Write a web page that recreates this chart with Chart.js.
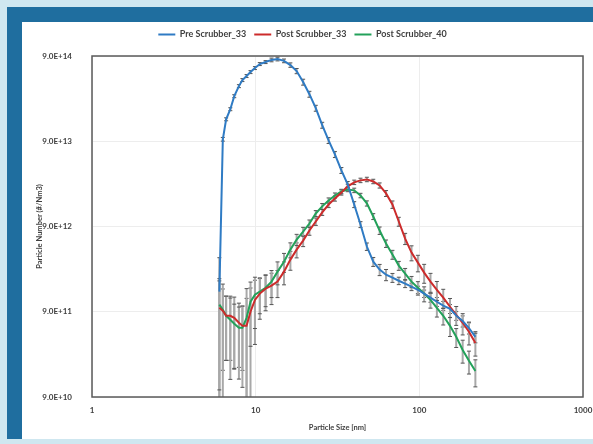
<!DOCTYPE html>
<html>
<head>
<meta charset="utf-8">
<script src="https://cdn.jsdelivr.net/npm/chart.js@4.4.1/dist/chart.umd.min.js"></script>
<style>
  html, body { margin: 0; padding: 0; width: 593px; height: 444px; overflow: hidden; background: #cfe7f0; }
  #frame { position: absolute; left: 7px; top: 7px; width: 586px; height: 432px; background: #1f6e9f; }
  #panel { position: absolute; left: 22px; top: 22px; width: 571px; height: 417px; background: #fff; overflow: hidden; }
  #chart { position: absolute; left: 0; top: 0; }
</style>
</head>
<body>
<div id="frame"></div>
<div id="panel"><canvas id="chart" width="580" height="414"></canvas></div>
<script>
'use strict';

// particle size bins (nm)
const sizes = [6.0, 6.3, 6.6, 7.0, 7.4, 7.9, 8.3, 8.8, 9.3, 9.9, 10.6, 11.5, 12.5, 13.6, 14.9, 16.3, 17.8, 19.5, 21.3, 23.3,
  25.5, 27.9, 30.5, 33.4, 36.5, 40.0, 43.7, 47.8, 52.3, 57.2, 62.6, 68.5, 74.9, 81.9, 89.6, 98.0, 107, 117, 128, 140,
  154, 168, 184, 201, 220];

const preScrubber33 = [1.55e12, 9.5e13, 1.63e14, 2.14e14, 3.04e14, 3.99e14, 4.70e14, 5.24e14, 5.83e14, 6.5e14,
  7.24e14, 7.64e14, 8.1e14, 8.3e14, 7.9e14, 7.05e14, 6.0e14, 4.45e14, 3.21e14, 2.2e14,
  1.39e14, 9.2e13, 6.3e13, 4.1e13, 2.81e13, 1.63e13, 9.5e12, 5.24e12, 3.48e12, 2.81e12,
  2.45e12, 2.26e12, 2.08e12, 1.92e12, 1.77e12, 1.63e12, 1.47e12, 1.32e12, 1.18e12, 1.06e12,
  9.75e11, 8.1e11, 7.0e11, 5.8e11, 4.57e11];

const postScrubber33 = [1.0e12, 9.25e11, 8.07e11, 8.07e11, 7.64e11, 6.68e11, 6.15e11, 6.15e11, 9.0e11, 1.24e12,
  1.47e12, 1.68e12, 1.82e12, 2.03e12, 2.66e12, 3.68e12, 4.82e12, 6.15e12, 8.07e12, 1.03e13,
  1.32e13, 1.63e13, 1.92e13, 2.26e13, 2.66e13, 2.97e13, 3.13e13, 3.21e13, 3.04e13, 2.73e13,
  2.2e13, 1.63e13, 1.03e13, 6.5e12, 4.45e12, 3.39e12, 2.59e12, 2.03e12, 1.63e12, 1.32e12,
  1.03e12, 8.3e11, 6.68e11, 5.24e11, 3.88e11];

const postScrubber40 = [1.09e12, 9.5e11, 8.07e11, 7.24e11, 6.5e11, 5.84e11, 5.84e11, 7.64e11, 1.18e12, 1.43e12,
  1.55e12, 1.72e12, 2.03e12, 2.66e12, 3.48e12, 4.82e12, 6.33e12, 7.85e12, 9.75e12, 1.28e13,
  1.55e13, 1.82e13, 2.08e13, 2.32e13, 2.45e13, 2.39e13, 2.08e13, 1.68e13, 1.18e13, 8.07e12,
  5.68e12, 4.22e12, 3.13e12, 2.52e12, 2.03e12, 1.72e12, 1.47e12, 1.24e12, 1.0e12, 8.07e11,
  6.15e11, 4.57e11, 3.21e11, 2.39e11, 1.82e11];

// relative standard deviation (sd / value) for the error bars
const errPre33 = [1.5, 0.05, 0.04, 0.04, 0.04, 0.04, 0.04, 0.04, 0.04, 0.04, 0.04, 0.04, 0.05, 0.05, 0.05, 0.06, 0.07,
  0.08, 0.08, 0.08, 0.08, 0.08, 0.08, 0.08, 0.08, 0.08, 0.08, 0.1, 0.12, 0.15, 0.15, 0.12, 0.1, 0.1, 0.1, 0.1, 0.1,
  0.12, 0.12, 0.12, 0.12, 0.12, 0.15, 0.15, 0.15];
const errPost33 = [1.2, 0.8, 0.7, 0.7, 0.75, 0.7, 0.7, 1.1, 0.9, 0.7, 0.5, 0.45, 0.4, 0.35, 0.3, 0.25, 0.2, 0.15,
  0.12, 0.1, 0.08, 0.08, 0.07, 0.07, 0.06, 0.06, 0.06, 0.06, 0.06, 0.07, 0.08, 0.1, 0.12, 0.15, 0.2, 0.22, 0.25,
  0.25, 0.25, 0.25, 0.25, 0.25, 0.28, 0.3, 0.3];
const errPost40 = [0.9, 1.0, 0.7, 0.8, 0.7, 0.75, 0.8, 1.2, 0.7, 0.6, 0.45, 0.4, 0.35, 0.3, 0.25, 0.2, 0.15, 0.12,
  0.1, 0.08, 0.08, 0.07, 0.07, 0.06, 0.06, 0.06, 0.06, 0.07, 0.08, 0.1, 0.1, 0.12, 0.12, 0.15, 0.15, 0.18, 0.2,
  0.2, 0.22, 0.22, 0.25, 0.25, 0.3, 0.3, 0.35];

const seriesNames = ['Pre Scrubber_33', 'Post Scrubber_33', 'Post Scrubber_40'];
const xTicks = [1, 10, 100, 1000];
const yTicks = [9e10, 9e11, 9e12, 9e13, 9e14];

const TXT = '#404040';
const FONT = 'Lato, "Open Sans", sans-serif';

const pts = (vals) => sizes.map((s, i) => ({ x: s, y: vals[i] }));

// gray sd bars with dark caps, drawn under the lines
const errorBars = {
  id: 'errorBars',
  beforeDatasetsDraw(chart) {
    const { ctx, chartArea, scales: { x, y } } = chart;
    ctx.save();
    chart.data.datasets.forEach(ds => {
      ds.data.forEach((p, j) => {
        const r = ds.errors[j];
        const px = x.getPixelForValue(p.x);
        const hi = p.y * (1 + r);
        const lo = p.y * (1 - r);
        const yTop = Math.max(y.getPixelForValue(hi), chartArea.top);
        const yBot = lo > y.min ? y.getPixelForValue(lo) : chartArea.bottom;
        ctx.strokeStyle = '#a8a8a8';
        ctx.lineWidth = 2;
        ctx.beginPath();
        ctx.moveTo(px, yTop);
        ctx.lineTo(px, yBot);
        ctx.stroke();
        ctx.strokeStyle = '#555';
        ctx.lineWidth = 1;
        ctx.beginPath();
        ctx.moveTo(px - 2, yTop); ctx.lineTo(px + 2, yTop);
        if (yBot < chartArea.bottom) { ctx.moveTo(px - 2, yBot); ctx.lineTo(px + 2, yBot); }
        ctx.stroke();
      });
    });
    ctx.restore();
  }
};

const plotBox = {
  id: 'plotBox',
  afterDraw(chart) {
    const { ctx, chartArea: a } = chart;
    ctx.save();
    ctx.strokeStyle = '#5a5a5a';
    ctx.lineWidth = 1.5;
    ctx.strokeRect(a.left, a.top, a.right - a.left, a.bottom - a.top);
    ctx.restore();
  }
};

new Chart(document.getElementById('chart'), {
  type: 'line',
  data: {
    datasets: [
      { label: seriesNames[0], data: pts(preScrubber33), errors: errPre33, borderColor: '#2f7bc4', backgroundColor: '#2f7bc4' },
      { label: seriesNames[1], data: pts(postScrubber33), errors: errPost33, borderColor: '#cc2b2b', backgroundColor: '#cc2b2b' },
      { label: seriesNames[2], data: pts(postScrubber40), errors: errPost40, borderColor: '#23a15a', backgroundColor: '#23a15a' }
    ].map(d => ({ ...d, borderWidth: 2, pointRadius: 0, tension: 0, fill: false }))
  },
  options: {
    responsive: false,
    animation: false,
    layout: { padding: { left: 0, right: 19, top: 0, bottom: 0 } },
    plugins: {
      tooltip: { enabled: false },
      legend: {
        labels: {
          usePointStyle: true, pointStyle: 'line', pointStyleWidth: 17, padding: 8,
          color: TXT, font: { family: FONT, size: 9, weight: 'bold' }
        }
      },
      // empty spacer between legend and plot
      subtitle: { display: true, text: '', weight: 500, padding: 0, font: { size: 7, lineHeight: 1 } }
    },
    scales: {
      x: {
        type: 'logarithmic', min: 1, max: 1000,
        afterBuildTicks: s => { s.ticks = xTicks.map(v => ({ value: v })); },
        afterFit: s => { s.height = 39; },
        ticks: { callback: v => String(v), autoSkip: false, maxRotation: 0, padding: 9, color: TXT, font: { family: FONT, size: 8, weight: 'bold' } },
        grid: { color: '#ededed', drawTicks: false },
        border: { display: false },
        title: { display: true, text: 'Particle Size [nm]', color: TXT, padding: { top: 4, bottom: 4 }, font: { family: FONT, size: 7.5, weight: 'bold' } }
      },
      y: {
        type: 'logarithmic', min: 9e10, max: 9e14,
        afterBuildTicks: s => { s.ticks = yTicks.map(v => ({ value: v })); },
        afterFit: s => { s.width = 70; },
        ticks: { callback: v => v.toExponential(1).toUpperCase(), autoSkip: false, padding: 20, color: TXT, font: { family: FONT, size: 8, weight: 'bold' } },
        grid: { color: '#ededed', drawTicks: false },
        border: { display: false },
        title: { display: true, text: 'Particle Number (#/Nm3)', color: TXT, padding: { top: 13, bottom: 13 }, font: { family: FONT, size: 7.5, weight: 'bold' } }
      }
    }
  },
  plugins: [errorBars, plotBox]
});
</script>
</body>
</html>
